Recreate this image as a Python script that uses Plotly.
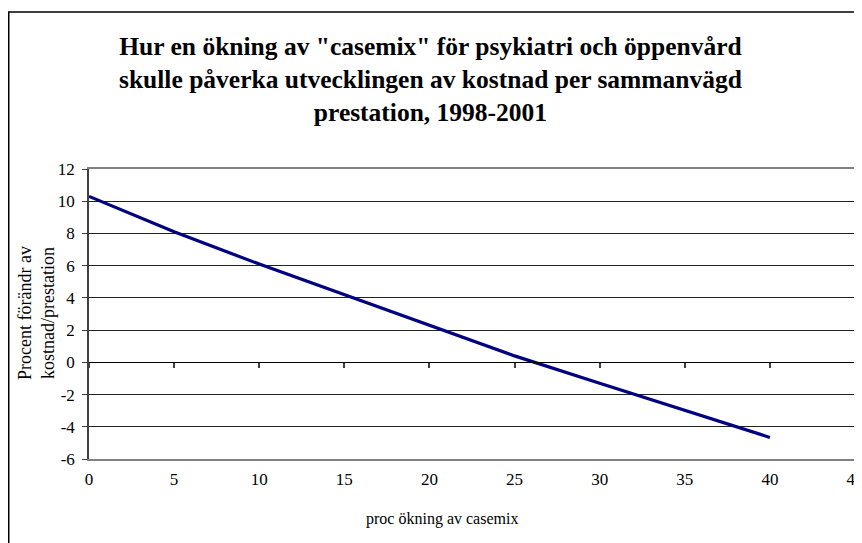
import plotly.graph_objects as go

# Data
casemix_increase = [0, 5, 10, 15, 20, 25, 30, 35, 40]
cost_change = [10.3, 8.1, 6.1, 4.2, 2.25, 0.4, -1.3, -2.97, -4.66]

x_ticks = [0, 5, 10, 15, 20, 25, 30, 35, 40, 45]
y_ticks = [-6, -4, -2, 0, 2, 4, 6, 8, 10, 12]

title_lines = [
    'Hur en ökning av "casemix" för psykiatri och öppenvård',
    'skulle påverka utvecklingen av kostnad per sammanvägd',
    'prestation, 1998-2001',
]
x_title = "proc ökning av casemix"
y_title_lines = ["Procent förändr av", "kostnad/prestation"]

# page has an 8px body margin, so the figure is offset by 8px
OFF = 8
W, H = 862 - OFF, 543 - OFF
ML, MR, MT, MB = 89 - OFF, 7, 169 - OFF, 84
PW, PH = W - ML - MR, H - MT - MB

def px_x(p):  # p in window pixels
    return (p - OFF - ML) / PW

def px_y(p):
    return (H - MB - (p - OFF)) / PH

FONT = "Liberation Serif, Times New Roman, serif"

fig = go.Figure()
fig.add_trace(go.Scatter(
    x=casemix_increase, y=cost_change, mode="lines",
    line=dict(color="#000080", width=3.2), showlegend=False,
    hoverinfo="skip",
))
# invisible trace on secondary x axis (axis crossing at y=0)
fig.add_trace(go.Scatter(x=[x_ticks[0], x_ticks[-1]], y=[0, 0], xaxis="x2",
                         mode="lines", line=dict(width=0), showlegend=False,
                         hoverinfo="skip"))

fig.update_layout(
    width=W, height=H,
    margin=dict(l=ML, r=MR, t=MT, b=MB, autoexpand=False),
    paper_bgcolor="white", plot_bgcolor="white",
    font=dict(family=FONT, color="black", size=16),
    xaxis=dict(
        range=[0, 45], tickvals=x_ticks, ticktext=[str(v) for v in x_ticks],
        showgrid=False, zeroline=False, showline=True, linecolor="#808080",
        linewidth=1.5, mirror=True, ticks="", ticklabelstandoff=4,
        ticklabeloverflow="allow",
        tickfont=dict(family=FONT, size=17), automargin=False,
    ),
    xaxis2=dict(
        range=[0, 45], overlaying="x", anchor="free",
        position=(0 - y_ticks[0]) / (y_ticks[-1] - y_ticks[0]),
        side="bottom", tickvals=x_ticks, showticklabels=False,
        ticks="outside", ticklen=5, tickcolor="#404040", tickwidth=1.5,
        showline=True, linecolor="black", linewidth=1.2,
        showgrid=False, zeroline=False, automargin=False,
    ),
    yaxis=dict(
        range=[-6, 12], tickvals=y_ticks, ticktext=[str(v) for v in y_ticks],
        showgrid=True, gridcolor="#222222", gridwidth=1,
        zeroline=False, showline=True, linecolor="#404040", linewidth=1.5,
        ticks="outside", ticklen=5, tickcolor="#404040", ticklabelstandoff=4,
        tickfont=dict(family=FONT, size=17), automargin=False,
    ),
    annotations=[
        dict(text="<br>".join(title_lines), xref="paper", yref="paper",
             x=px_x(430), y=px_y(80), xanchor="center", yanchor="middle",
             showarrow=False,
             font=dict(family=FONT, size=25.5, color="black", weight="bold")),
        dict(text=x_title, xref="paper", yref="paper",
             x=px_x(442), y=px_y(519), xanchor="center", yanchor="middle",
             showarrow=False, font=dict(family=FONT, size=16)),
        dict(text="<br>".join(y_title_lines), xref="paper", yref="paper",
             x=px_x(36), y=px_y(313), xanchor="center", yanchor="middle",
             textangle=-90, showarrow=False, font=dict(family=FONT, size=18)),
    ],
    shapes=[
        dict(type="rect", xref="paper", yref="paper",
             x0=px_x(8.75), x1=px_x(862 + 30), y0=px_y(543 + 30), y1=px_y(12),
             line=dict(color="black", width=1.5), layer="below"),
    ],
)

fig.write_html("out.html")
